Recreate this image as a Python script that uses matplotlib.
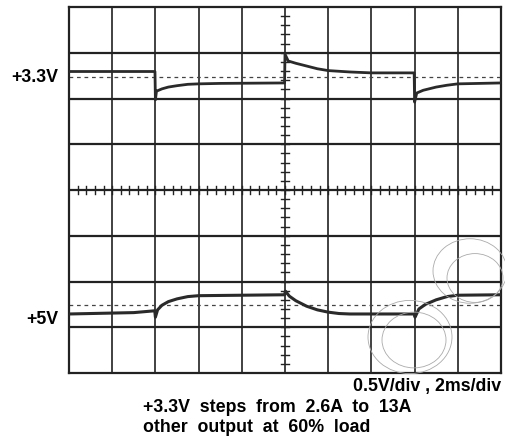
import matplotlib
matplotlib.use('Agg')
import matplotlib.pyplot as plt
from matplotlib.patches import Circle

plt.rcParams['font.family'] = ['Liberation Sans', 'DejaVu Sans']

# time in ms (2 ms/div), level in screen divisions (0.5 V/div)
t_33 = [0, 3.98, 4.0, 4.05, 4.3, 4.6, 5.0, 5.5, 6.0, 7.0, 9.98, 10.0, 10.15, 10.5, 11.0, 11.5,
        12.0, 13.0, 14.0, 15.98, 16.0, 16.1, 16.4, 17.0, 17.5, 18.0, 19.0, 20.0]
v_33 = [2.59, 2.59, 1.97, 2.16, 2.21, 2.25, 2.28, 2.31, 2.32, 2.33, 2.34, 2.97, 2.82, 2.77, 2.71,
        2.65, 2.61, 2.58, 2.56, 2.56, 1.92, 2.12, 2.18, 2.25, 2.29, 2.32, 2.33, 2.34]

t_5 = [0, 3.0, 3.97, 4.0, 4.1, 4.3, 4.6, 5.0, 5.5, 6.0, 9.98, 10.02, 10.2, 10.5, 11.0, 11.5,
       12.0, 12.5, 13.0, 15.98, 16.02, 16.2, 16.5, 17.0, 17.5, 18.0, 20.0]
v_5 = [-2.71, -2.68, -2.64, -2.78, -2.62, -2.52, -2.44, -2.38, -2.33, -2.31, -2.29, -2.21, -2.32,
       -2.42, -2.54, -2.62, -2.67, -2.70, -2.71, -2.71, -2.78, -2.60, -2.50, -2.40, -2.33, -2.30,
       -2.29]

ref_33 = 2.47
ref_5 = -2.51

fig = plt.figure(figsize=(5.06, 4.41), dpi=100)
ax = fig.add_axes([69/506, 68/441, 432/506, 366/441])
ax.set_xlim(0, 20)
ax.set_ylim(-4, 4)
ax.set_xticks([])
ax.set_yticks([])
for s in ax.spines.values():
    s.set_linewidth(1.6)
    s.set_color('#222222')

# graticule
for x in range(2, 20, 2):
    ax.axvline(x, color='#333333', lw=1.3, zorder=1)
for y in range(-3, 4):
    ax.axhline(y, color='#222222', lw=1.6, zorder=1)

# minor ticks on centre lines
for i in range(1, 50):
    x = i * 0.4
    ax.plot([x, x], [-0.09, 0.09], color='#222222', lw=1.0, zorder=2)
for i in range(1, 40):
    y = -4 + i * 0.2
    ax.plot([9.8, 10.2], [y, y], color='#222222', lw=1.0, zorder=2)

ax.axhline(ref_33, color='#444444', lw=0.9, ls=(0, (3, 3)), zorder=2)
ax.axhline(ref_5, color='#444444', lw=0.9, ls=(0, (3, 3)), zorder=2)

ax.plot(t_33, v_33, color='#2a2a2a', lw=2.0, zorder=3)
ax.plot(t_5, v_5, color='#2a2a2a', lw=2.2, zorder=3)

# watermark
for cx, cy, r in [(470, 271, 37), (475, 278, 28), (410, 337, 42), (414, 340, 32)]:
    fig.add_artist(Circle((cx/506, 1 - cy/441), r/506, transform=fig.transFigure,
                          fill=False, ec='#aaaaaa', lw=0.6))

fs = 12.8
fig.text(58/506, 1 - 77/441, '+3.3V', ha='right', va='center', fontsize=fs, fontweight='bold')
fig.text(58/506, 1 - 319/441, '+5V', ha='right', va='center', fontsize=fs, fontweight='bold')
fig.text(501/506, 1 - 386/441, '0.5V/div , 2ms/div', ha='right', va='center',
         fontsize=fs, fontweight='bold')
fig.text(143/506, 1 - 407/441, '+3.3V  steps  from  2.6A  to  13A', ha='left', va='center',
         fontsize=fs, fontweight='bold')
fig.text(143/506, 1 - 428/441, 'other  output  at  60%  load', ha='left', va='center',
         fontsize=fs, fontweight='bold')

fig.savefig('out.png', dpi=100)
